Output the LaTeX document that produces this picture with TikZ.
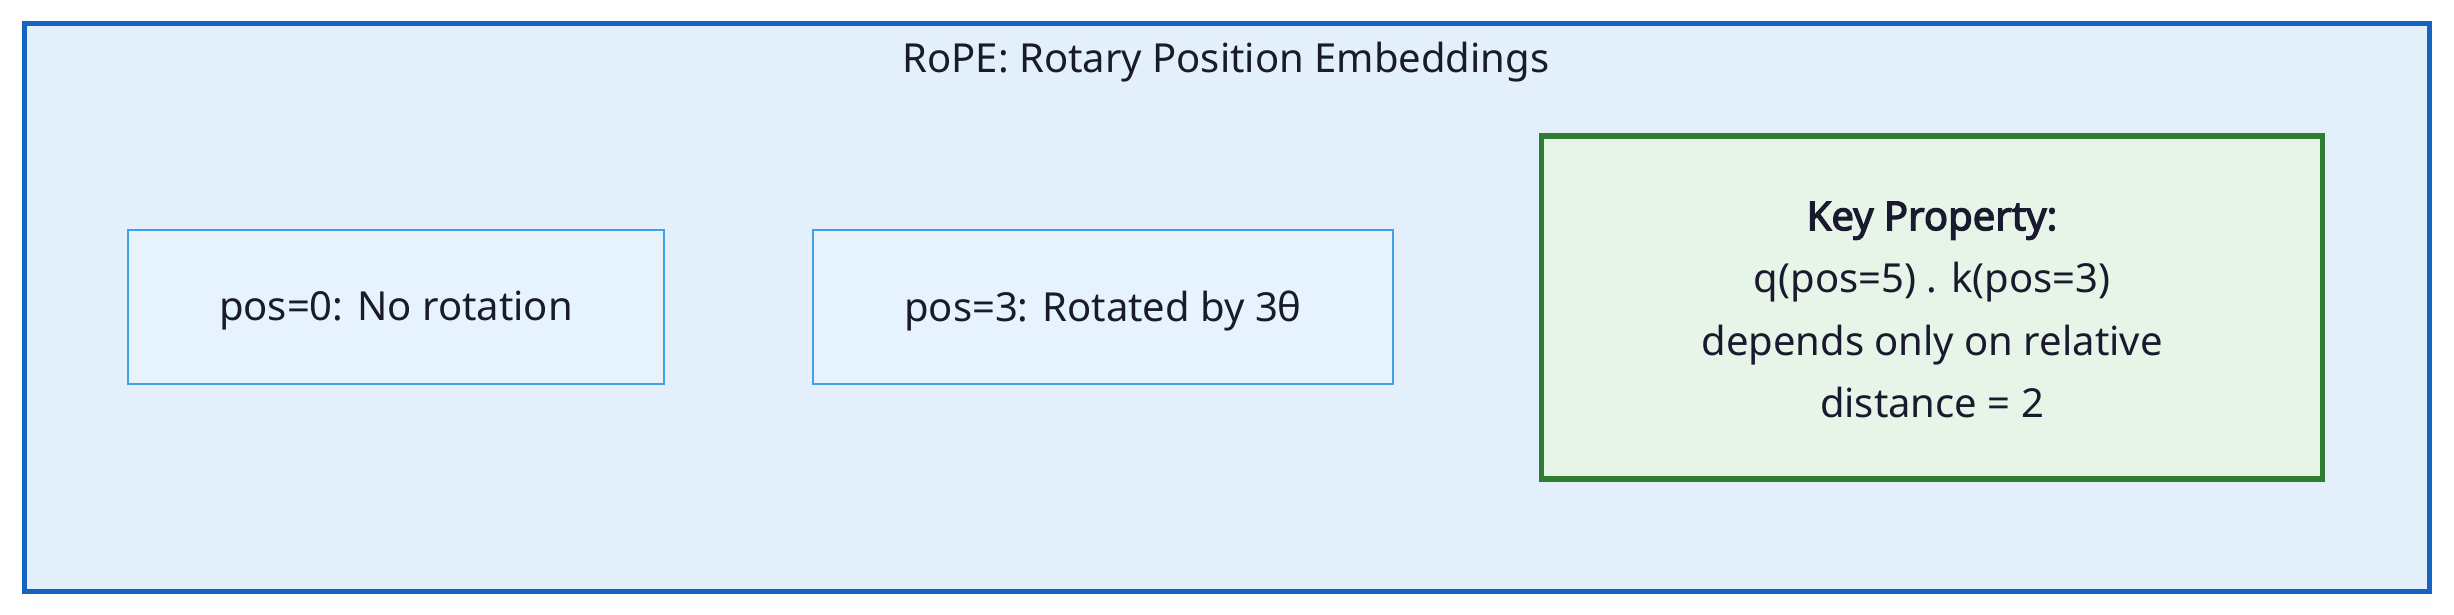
\documentclass[tikz,border=0pt]{standalone}
\usepackage{fontspec}
\setmainfont{Noto Sans}
\newfontfamily\heavyfont[FakeBold=3]{Noto Sans}
\definecolor{outerfill}{HTML}{E3F0FB}
\definecolor{outerdraw}{HTML}{1565C0}
\definecolor{innerfill}{HTML}{E6F3FD}
\definecolor{innerdraw}{HTML}{42A0E6}
\definecolor{greenfill}{HTML}{E7F4E8}
\definecolor{greendraw}{HTML}{2E7D32}
\definecolor{txt}{HTML}{1A1A2E}
\tikzset{
  bodyfont/.style={font=\fontsize{40}{62.6}\selectfont, text=txt},
  posbox/.style={draw=innerdraw, fill=innerfill, line width=2.6pt, minimum width=536pt, minimum height=154pt, inner sep=0pt, bodyfont},
  keybox/.style={draw=greendraw, fill=greenfill, line width=5.5pt, minimum width=781pt, minimum height=343pt, inner sep=0pt, bodyfont, align=center},
}
\begin{document}
\begin{tikzpicture}[x=1pt,y=-1pt]
\useasboundingbox[fill=white] (0,0) rectangle (2454,615);
\node[draw=outerdraw, fill=outerfill, line width=5pt, minimum width=2405pt, minimum height=567pt, inner sep=0pt] (frame) at (1226.5,307.5) {};
\node[bodyfont] (title) at (1226,62) {RoPE: Rotary Position Embeddings};
\node[posbox] (p0) at (396,307) {};
\node[bodyfont] (p0t) at (396,311) {pos=0: No rotation};
\node[posbox, minimum width=580pt] (p3) at (1103,307) {};
\node[bodyfont] (p3t) at (1103,311) {pos=3: Rotated by 3θ};
\node[keybox] (key) at (1932,307.5) {};
\node[bodyfont, align=center] (keyt) at (1932,310) {{\heavyfont Key Property:}\\q(pos=5) . k(pos=3)\\depends only on relative\\distance = 2};
\end{tikzpicture}
\end{document}
